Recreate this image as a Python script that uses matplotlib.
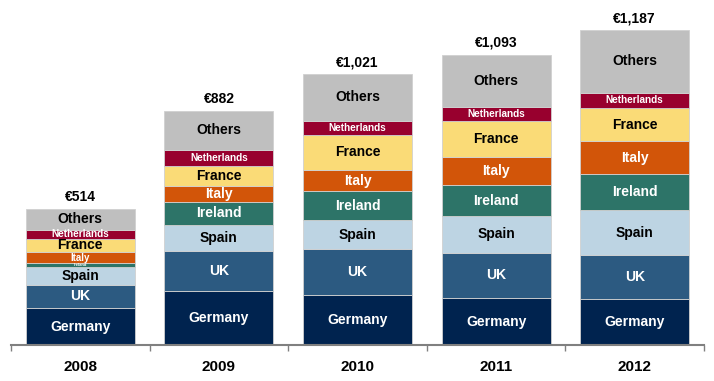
import matplotlib
matplotlib.use('Agg')
import matplotlib.pyplot as plt
import numpy as np

plt.rcParams['font.family'] = ['Liberation Sans', 'DejaVu Sans']

years = ['2008', '2009', '2010', '2011', '2012']
countries = ['Germany', 'UK', 'Spain', 'Ireland', 'Italy', 'France', 'Netherlands', 'Others']

germany = [139, 202, 188, 176, 175]
uk = [88, 152, 173, 172, 163]
spain = [67, 98, 110, 137, 170]
ireland = [15, 88, 109, 117, 136]
italy = [40, 59, 79, 108, 123]
france = [52, 77, 133, 135, 126]
netherlands = [32, 59, 53, 52, 57]
others = [81, 147, 176, 196, 237]

series = [germany, uk, spain, ireland, italy, france, netherlands, others]

colors = ['#00234f', '#2c5a81', '#bdd4e3', '#2d7468', '#d25509', '#fadb77', '#98002e', '#bfbfbf']
text_colors = ['white', 'white', 'black', 'white', 'white', 'black', 'white', 'black']

fig = plt.figure(figsize=(7.14, 3.81), dpi=100)
ax = fig.add_axes([11 / 714, 36 / 381, 693 / 714, 345 / 381])

x = np.arange(len(years))
bottom = np.zeros(len(years))
for name, vals, col, tcol in zip(countries, series, colors, text_colors):
    vals = np.array(vals, dtype=float)
    ax.bar(x, vals, 0.787, bottom=bottom, color=col, edgecolor='#d0d0d0', linewidth=0.6, zorder=2)
    for xi, b, v in zip(x, bottom, vals):
        if name == 'Netherlands':
            fs = 7.2
        elif v < 25:
            fs = 3
        elif v < 45:
            fs = 7
        else:
            fs = 10
        ax.text(xi, b + v / 2, name, ha='center', va='center', color=tcol,
                fontsize=fs, fontweight='bold', zorder=3)
    bottom += vals

for xi, t in zip(x, bottom):
    ax.annotate('€{:,}'.format(int(t)), (xi, t), xytext=(0, 8.6), textcoords='offset points',
                ha='center', va='center', fontsize=10, fontweight='bold')

ax.set_xlim(-0.5, len(years) - 0.5)
ax.set_ylim(0, 1300)

for s in ['top', 'right', 'left']:
    ax.spines[s].set_visible(False)
ax.spines['bottom'].set_color('#808080')
ax.spines['bottom'].set_linewidth(1.5)

ax.set_yticks([])
ax.set_xticks(x)
ax.set_xticklabels(years, fontsize=11, fontweight='bold')
ax.tick_params(axis='x', which='major', length=0, pad=11)
ax.set_xticks(np.arange(-0.5, len(years)), minor=True)
ax.tick_params(axis='x', which='minor', length=4, width=1, color='#808080', direction='out')

fig.savefig('out.png', dpi=100)
